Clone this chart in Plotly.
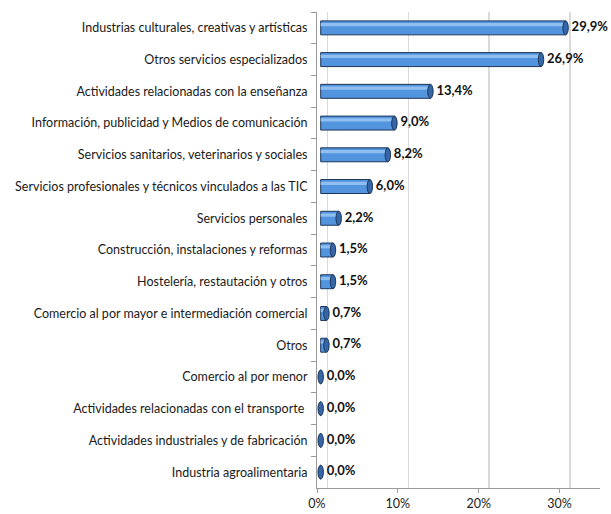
import plotly.graph_objects as go

categories = [
    "Industrias culturales, creativas y artísticas",
    "Otros servicios especializados",
    "Actividades relacionadas con la enseñanza",
    "Información, publicidad y Medios de comunicación",
    "Servicios sanitarios, veterinarios y sociales",
    "Servicios profesionales y técnicos vinculados a las TIC",
    "Servicios personales",
    "Construcción, instalaciones y reformas",
    "Hostelería, restautación y otros",
    "Comercio al por mayor e intermediación comercial",
    "Otros",
    "Comercio al por menor",
    "Actividades relacionadas con el transporte ",
    "Actividades industriales y de fabricación",
    "Industria agroalimentaria",
]
values = [29.9, 26.9, 13.4, 9.0, 8.2, 6.0, 2.2, 1.5, 1.5, 0.7, 0.7, 0.0, 0.0, 0.0, 0.0]
x_ticks = [0, 10, 20, 30]
x_ticklabels = ["0%", "10%", "20%", "30%"]

labels = [f"{v:.1f}".replace(".", ",") + "%" for v in values]

FONT = "Lato"
BAR_W = 0.44
fig = go.Figure()

# invisible traces so that the tick axis (x) and the grid axis (x2) are drawn
fig.add_trace(go.Scatter(x=x_ticks, y=[categories[-1]] * len(x_ticks), mode="markers",
                         marker=dict(opacity=0, size=1), xaxis="x", yaxis="y",
                         showlegend=False, hoverinfo="skip"))
fig.add_trace(go.Scatter(x=x_ticks, y=[categories[-1]] * len(x_ticks), mode="markers",
                         marker=dict(opacity=0, size=1), xaxis="x2", yaxis="y",
                         showlegend=False, hoverinfo="skip"))

# cylinder body
fig.add_trace(go.Bar(x=values, y=categories, orientation="h", width=BAR_W,
                     marker=dict(color="#5294de", line=dict(color="#1d3557", width=1)),
                     xaxis="x3", yaxis="y", showlegend=False, hoverinfo="skip"))
# highlight stripe
fig.add_trace(go.Bar(x=values, y=categories, orientation="h", width=0.1, offset=-0.15,
                     marker=dict(color="#8fbff0", line=dict(width=0)),
                     xaxis="x3", yaxis="y", showlegend=False, hoverinfo="skip"))
# value labels
fig.add_trace(go.Scatter(x=values, y=categories, mode="markers+text", text=labels,
                         textposition="middle right", cliponaxis=False,
                         marker=dict(size=8, opacity=0),
                         textfont=dict(family=FONT, size=13, color="#111111", weight="bold"),
                         xaxis="x3", yaxis="y", showlegend=False, hoverinfo="skip"))

shapes = []
for i, v in enumerate(values):
    shapes.append(dict(type="circle", xref="x3", yref="y",
                       x0=v - 0.33, x1=v + 0.33, y0=i - BAR_W / 2, y1=i + BAR_W / 2,
                       fillcolor="#3567a8", line=dict(color="#1d3557", width=1), layer="above"))

n = len(categories)
fig.update_layout(
    width=611, height=514,
    margin=dict(l=317, r=11, t=12, b=26),
    paper_bgcolor="white", plot_bgcolor="white",
    barmode="overlay",
    hovermode=False,
    shapes=shapes,
    font=dict(family=FONT, size=12, color="#1a1a1a"),
    xaxis=dict(range=[0, 35], tickvals=x_ticks, ticktext=x_ticklabels,
               showgrid=False, zeroline=False, showline=True, linecolor="#9a9a9a", linewidth=1,
               ticks="outside", ticklen=4, tickcolor="#9a9a9a", automargin=False,
               tickfont=dict(family=FONT, size=12.5, color="#222222")),
    xaxis2=dict(overlaying="x", range=[-1.3, 33.7], tickvals=x_ticks, showgrid=True,
                gridcolor="#dadada", gridwidth=1.5, showticklabels=False, zeroline=False,
                showline=False, automargin=False),
    xaxis3=dict(overlaying="x", range=[-0.45, 34.1], showgrid=False, showticklabels=False,
                zeroline=False, showline=False, automargin=False),
    yaxis=dict(type="category", categoryorder="array", categoryarray=categories,
               range=[n - 0.5, -0.5], showgrid=False, showline=True,
               linecolor="#9a9a9a", linewidth=1, ticks="outside", ticklen=5,
               tickcolor="#9a9a9a", tickson="boundaries", ticklabelstandoff=6,
               automargin=False,
               tickfont=dict(family=FONT, size=12.5, color="#1a1a1a")),
)

fig.write_html("out.html", config={"displayModeBar": False, "staticPlot": True},
               post_script="document.body.style.margin='0';")
